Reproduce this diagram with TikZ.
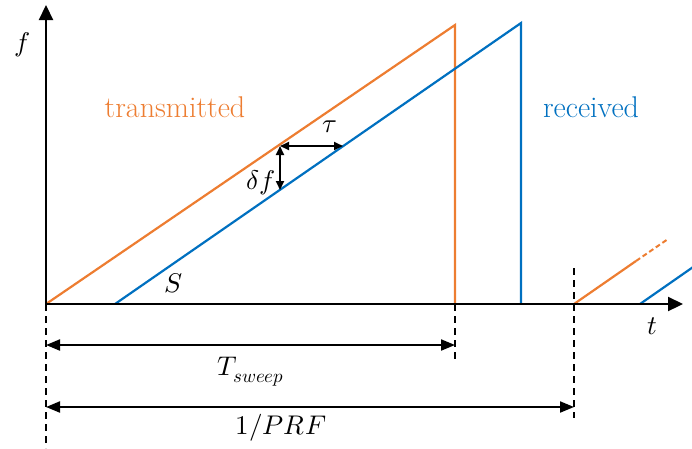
\documentclass[tikz,border=0pt]{standalone}
\usepackage{unicode-math}
\usetikzlibrary{arrows.meta}
\definecolor{txorange}{RGB}{237,125,49}
\definecolor{rxblue}{RGB}{0,112,192}
\begin{document}
\begin{tikzpicture}[x=1pt,y=-1pt,
  axis/.style={line width=2.2pt,-{Triangle[length=15pt,width=14pt]}},
  tx/.style={txorange,line width=2.2pt},
  rx/.style={rxblue,line width=2.2pt},
  guide/.style={line width=1.6pt,dash pattern=on 7pt off 5pt},
  span/.style={line width=2pt,{Triangle[length=14pt,width=11pt]}-{Triangle[length=14pt,width=11pt]}},
  small/.style={line width=1.8pt,{Triangle[length=9pt,width=8pt]}-{Triangle[length=9pt,width=8pt]}},
  lbl/.style={font=\fontsize{27}{32}\selectfont},
  word/.style={font=\fontsize{30}{36}\selectfont}]
  \useasboundingbox (0,0) rectangle (692,448);
  \clip (0,0) rectangle (692,448);

  % key points
  \coordinate (O) at (46,304);
  \coordinate (ytip) at (46,5);
  \coordinate (xtip) at (683,304);
  \coordinate (txpeak) at (455,25);
  \coordinate (txend) at (455,304);
  \coordinate (rxstart) at (115,304);
  \coordinate (rxpeak) at (521,23);
  \coordinate (rxend) at (521,304);
  \coordinate (tx2start) at (574,304);
  \coordinate (tx2mid) at (636,261);
  \coordinate (tx2end) at (668,239);
  \coordinate (rx2start) at (640,304);
  \coordinate (rx2end) at (696,265);

  % chirps
  \draw[tx] (O) -- (txpeak) -- (txend);
  \draw[rx] (rxstart) -- (rxpeak) -- (rxend);
  \draw[tx] (tx2start) -- (tx2mid);
  \draw[tx,line width=2pt,dash pattern=on 5pt off 3pt] (tx2mid) -- (tx2end);
  \draw[rx] (rx2start) -- (rx2end);

  % axes
  \draw[axis] (O) -- (ytip);
  \draw[axis] (O) -- (xtip);

  % guide lines
  \coordinate (g1b) at (46,448);
  \coordinate (g2b) at (455,362);
  \coordinate (g3t) at (574,268);
  \coordinate (g3b) at (574,418);
  \draw[guide] (O) -- (g1b);
  \draw[guide] (txend) -- (g2b);
  \draw[guide] (g3t) -- (g3b);

  % time spans
  \coordinate (s1a) at (46,345);
  \coordinate (s1b) at (455,345);
  \coordinate (s2a) at (46,407);
  \coordinate (s2b) at (574,407);
  \draw[span] (s1a) -- (s1b);
  \draw[span] (s2a) -- (s2b);

  % delay and frequency offset
  \coordinate (corner) at (280,146);
  \coordinate (tauend) at (343,146);
  \coordinate (dfend) at (280,190);
  \draw[small] (corner) -- (tauend);
  \draw[small] (corner) -- (dfend);

  % labels
  \node[lbl] (flbl) at (22,45) {$f$};
  \node[lbl] (tlbl) at (652,326) {$t$};
  \node[lbl] (taulbl) at (330,127) {$\tau$};
  \node[lbl] (dflbl) at (261,183) {$\delta f$};
  \node[lbl] (slbl) at (174,283) {$S$};
  \node[lbl] (tsw) at (251,372) {$T_{sweep}$};
  \node[lbl] (prf) at (281,428) {$1/PRF$};
  \node[word,text=txorange] (txlbl) at (175,107) {transmitted};
  \node[word,text=rxblue] (rxlbl) at (591,107) {received};
\end{tikzpicture}
\end{document}
